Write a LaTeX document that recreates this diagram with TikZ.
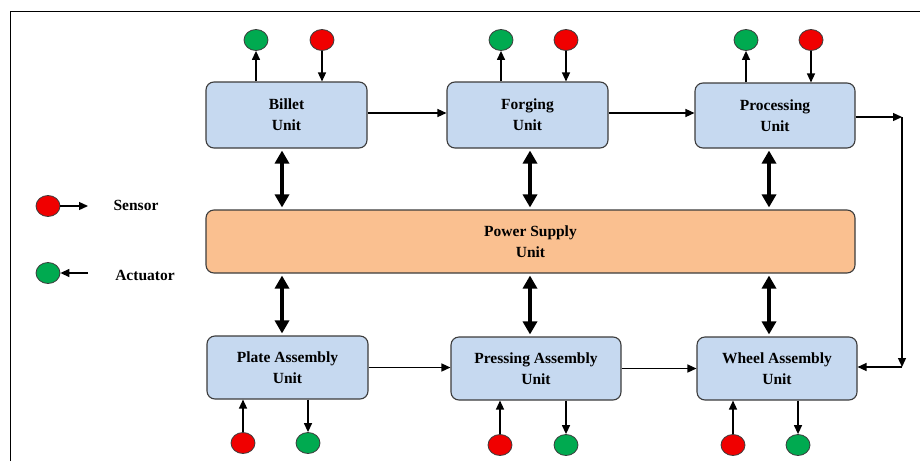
\documentclass[tikz,border=0pt]{standalone}
\usepackage{fontspec}
\setmainfont{Liberation Serif}
\usetikzlibrary{shapes.geometric,arrows.meta,calc}
\definecolor{boxblue}{RGB}{198,217,240}
\definecolor{boxorange}{RGB}{250,192,144}
\definecolor{sgreen}{RGB}{0,170,80}
\definecolor{sred}{RGB}{240,0,0}
\definecolor{edge}{RGB}{60,60,60}
\begin{document}
\begin{tikzpicture}[x=1pt,y=-1pt,
  unitbox/.style={draw=edge,line width=1.1pt,fill=boxblue,rounded corners=8pt,
    inner sep=0pt,align=center,font=\fontsize{15.5}{21}\selectfont\bfseries},
  powerbox/.style={unitbox,fill=boxorange},
  sens/.style={ellipse,draw=edge,line width=0.8pt,fill=sred,minimum width=24pt,minimum height=21pt,inner sep=0pt},
  act/.style={sens,fill=sgreen},
  flow/.style={line width=1.3pt,-{Triangle[length=9pt,width=8pt]}},
  power/.style={line width=4pt,{Triangle[length=13pt,width=14pt]}-{Triangle[length=13pt,width=14pt]},shorten <=2pt,shorten >=2pt},
  legtext/.style={font=\fontsize{15.5}{19}\selectfont\bfseries}]
\useasboundingbox (0,0) rectangle (920,461);
\fill[white] (0,0) rectangle (920,461);
\draw[line width=1pt] (10,461) -- (10,11) -- (920,11);

% units
\node[unitbox,minimum width=161pt,minimum height=66pt] (b) at (286.5,115) {Billet\\Unit};
\node[unitbox,minimum width=161pt,minimum height=66pt] (f) at (527.5,115) {Forging\\Unit};
\node[unitbox,minimum width=160pt,minimum height=65pt] (pr) at (775,115.5) {Processing\\Unit};
\node[powerbox,minimum width=649pt,minimum height=63pt] (ps) at (530.5,241.5) {Power Supply\\Unit};
\node[unitbox,minimum width=161pt,minimum height=63pt] (pa) at (287.5,367.5) {Plate Assembly\\Unit};
\node[unitbox,minimum width=170pt,minimum height=63pt] (pe) at (536,368.5) {Pressing Assembly\\Unit};
\node[unitbox,minimum width=160pt,minimum height=63pt] (w) at (777,368.5) {Wheel Assembly\\Unit};

% top sensors / actuators
\node[act] (ga1) at (256,40) {};
\node[sens] (ra1) at (322,40) {};
\node[act] (ga2) at (501,40) {};
\node[sens] (ra2) at (566,40) {};
\node[act] (ga3) at (746,40) {};
\node[sens] (ra3) at (811,40) {};
\foreach \g/\r/\u in {ga1/ra1/b,ga2/ra2/f,ga3/ra3/pr}{
  \draw[flow] (\g |- \u.north) -- (\g.south);
  \draw[flow] (\r.south) -- (\r |- \u.north);
}

% bottom sensors / actuators
\node[sens] (rb1) at (243,443) {};
\node[act] (gb1) at (308,443) {};
\node[sens] (rb2) at (500,445) {};
\node[act] (gb2) at (566,445) {};
\node[sens] (rb3) at (733,445) {};
\node[act] (gb3) at (798,445) {};
\foreach \r/\g/\u in {rb1/gb1/pa,rb2/gb2/pe,rb3/gb3/w}{
  \draw[flow] (\r.north) -- (\r |- \u.south);
  \draw[flow] (\g |- \u.south) -- (\g.north);
}

% flow between units
\draw[flow] ([yshift=2pt]b.east) -- ([yshift=2pt]b.east -| f.west);
\draw[flow] ([yshift=2pt]f.east) -- ([yshift=2pt]f.east -| pr.west);
\coordinate (c1) at (902,117);
\coordinate (c2) at (902,367);
\draw[flow] (pr.east |- c1) -- (c1);
\draw[flow] (c1) -- (c2);
\draw[flow] (c2) -- (c2 -| w.east);
\draw[flow] (pa.east) -- (pa.east -| pe.west);
\draw[flow] (pe.east) -- (pe.east -| w.west);

% power links
\draw[power] ([xshift=-4.5pt]b.south) -- ([xshift=-4.5pt]b.south |- ps.north);
\draw[power] ([xshift=2.5pt]f.south) -- ([xshift=2.5pt]f.south |- ps.north);
\draw[power] ([xshift=-6pt]pr.south) -- ([xshift=-6pt]pr.south |- ps.north);
\draw[power] ([xshift=-5.5pt]pa.north) -- ([xshift=-5.5pt]pa.north |- ps.south);
\draw[power] ([xshift=-6pt]pe.north) -- ([xshift=-6pt]pe.north |- ps.south);
\draw[power] ([xshift=-8pt]w.north) -- ([xshift=-8pt]w.north |- ps.south);

% legend
\node[sens] (ls) at (48,206) {};
\coordinate (lse) at (88,206);
\draw[flow] (ls.east) -- (lse);
\node[legtext] (lst) at (136,205) {Sensor};
\node[act] (la) at (48,273) {};
\coordinate (lae) at (88,273);
\draw[flow] (lae) -- (la.east);
\node[legtext] (lat) at (145,275) {Actuator};
\end{tikzpicture}
\end{document}
